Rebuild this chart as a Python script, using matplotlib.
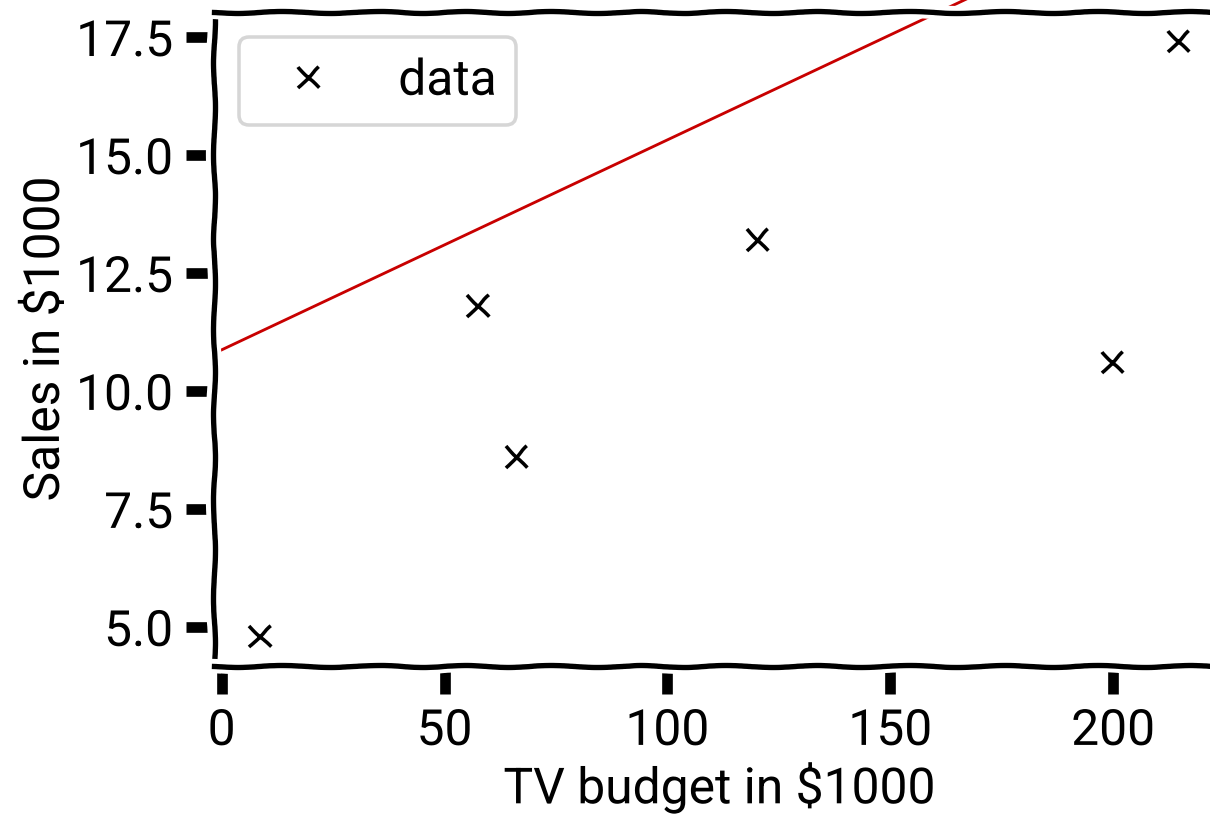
import matplotlib
matplotlib.use('Agg')
import matplotlib.pyplot as plt

# Data (Advertising subset)
tv_budget = [57.5, 120.2, 8.6, 199.8, 66.1, 214.7]
sales = [11.8, 13.2, 4.8, 10.6, 8.6, 17.4]

# Fitted line parameters (hypothesis)
theta0 = 10.87
theta1 = 0.0445
line_x = [0.0, 240.0]

DPI = 256
with plt.xkcd():
    plt.rcParams['font.family'] = ['Roboto', 'DejaVu Sans']
    fig = plt.figure(figsize=(1210 / DPI, 816 / DPI), dpi=DPI)
    ax = fig.add_axes([0.1769, 0.1838, 0.8352, 0.8015])
    ax.plot(tv_budget, sales, 'kx', label='data')
    xl = ax.get_xlim()
    yl = ax.get_ylim()
    line_y = [theta0 + theta1 * x for x in line_x]
    ln, = ax.plot(line_x, line_y, color='#c80000', lw=0.8, clip_on=False)
    ln.set_sketch_params(None)
    ax.set_xlim(xl)
    ax.set_ylim(yl)
    ax.set_xlabel('TV budget in $1000', labelpad=1.8)
    ax.set_ylabel('Sales in $1000', labelpad=2.0)
    leg = ax.legend(loc='upper left')
    leg.get_frame().set_sketch_params(None)
    fig.canvas.draw()
    for axis in (ax.xaxis, ax.yaxis):
        for t in axis.get_major_ticks():
            t.tick1line.set_sketch_params(None)
            t.tick2line.set_sketch_params(None)
    fig.savefig('out.png', dpi=DPI)
